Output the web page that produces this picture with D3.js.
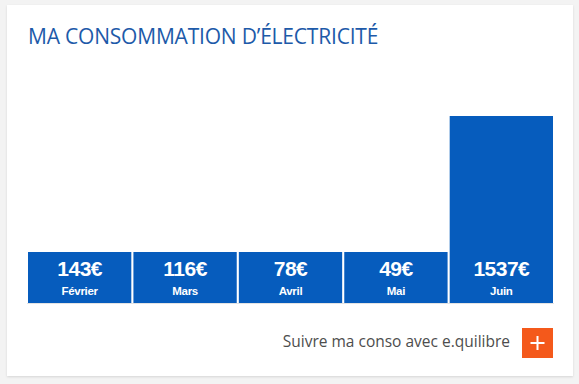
<!DOCTYPE html>
<html>
<head>
<meta charset="utf-8">
<script src="https://cdn.jsdelivr.net/npm/d3@7"></script>
<style>
  html, body { margin: 0; padding: 0; background: #f3f3f3; }
  svg { display: block; }
</style>
</head>
<body>
<svg id="chart" width="579" height="384"></svg>
<script>
// ── Data ─────────────────────────────────────────────
const title   = 'MA CONSOMMATION D\u2019ÉLECTRICITÉ';
const months  = ['Février', 'Mars', 'Avril', 'Mai', 'Juin'];
const amounts = [143, 116, 78, 49, 1537];
const footer  = 'Suivre ma conso avec e.quilibre';

(function () {
  const svg = d3.select('#chart');
  const W = 579, H = 384;
  const BLUE = '#065cbd';
  const BASE = 303, TOP = 116, MIN_H = 51;

  // ── Card + shadow ─────────────────────────────────
  const defs = svg.append('defs');
  const f = defs.append('filter').attr('id', 'shadow')
    .attr('x', '-5%').attr('y', '-5%').attr('width', '110%').attr('height', '110%');
  f.append('feDropShadow').attr('dx', 0).attr('dy', 1).attr('stdDeviation', 1.2)
    .attr('flood-color', '#000').attr('flood-opacity', 0.12);

  svg.append('rect').attr('width', W).attr('height', H).attr('fill', '#f3f3f3');
  svg.append('rect')
    .attr('x', 7).attr('y', 5).attr('width', 566).attr('height', 371)
    .attr('fill', '#fff').attr('filter', 'url(#shadow)');

  // ── Title ─────────────────────────────────────────
  svg.append('text')
    .attr('x', 28).attr('y', 44)
    .attr('font-family', '"Open Sans", sans-serif')
    .attr('font-size', 21)
    .attr('letter-spacing', -0.2)
    .attr('fill', '#1d5aa9')
    .text(title);

  // ── Scales ────────────────────────────────────────
  const x = d3.scaleBand().domain(months).range([28, 553]).paddingInner(0.02);
  const y = d3.scaleLinear().domain([0, d3.max(amounts)]).range([BASE, TOP]);
  const barTop = v => Math.min(y(v), BASE - MIN_H);

  const data = months.map((m, i) => ({ month: m, value: amounts[i] }));

  // baseline
  svg.append('line')
    .attr('x1', 27).attr('x2', 554).attr('y1', BASE + 0.5).attr('y2', BASE + 0.5)
    .attr('stroke', '#e3e3e3').attr('stroke-width', 1);

  const bars = svg.append('g').selectAll('g').data(data).join('g');

  bars.append('rect')
    .attr('x', d => x(d.month))
    .attr('y', d => barTop(d.value))
    .attr('width', x.bandwidth())
    .attr('height', d => BASE - barTop(d.value))
    .attr('fill', BLUE);

  bars.append('text')
    .attr('x', d => x(d.month) + x.bandwidth() / 2)
    .attr('y', BASE - 27)
    .attr('text-anchor', 'middle')
    .attr('font-family', '"Liberation Sans", Arial, sans-serif')
    .attr('font-weight', 'bold')
    .attr('font-size', 21)
    .attr('letter-spacing', -0.5)
    .attr('fill', '#fff')
    .text(d => d.value + '€');

  bars.append('text')
    .attr('x', d => x(d.month) + x.bandwidth() / 2)
    .attr('y', BASE - 8)
    .attr('text-anchor', 'middle')
    .attr('font-family', '"Liberation Sans", Arial, sans-serif')
    .attr('font-weight', 'bold')
    .attr('font-size', 11.5)
    .attr('letter-spacing', -0.3)
    .attr('fill', '#fff')
    .text(d => d.month);

  // ── Footer link ───────────────────────────────────
  svg.append('text')
    .attr('x', 510).attr('y', 347)
    .attr('text-anchor', 'end')
    .attr('font-family', '"Open Sans", sans-serif')
    .attr('font-size', 15.5)
    .attr('fill', '#4d4d4d')
    .text(footer);

  const btn = svg.append('g').attr('transform', 'translate(522,328)');
  btn.append('rect').attr('width', 31).attr('height', 30).attr('fill', '#f4591b');
  btn.append('path')
    .attr('d', 'M15.5 8V22M8.5 15H22.5')
    .attr('stroke', '#fff').attr('stroke-width', 2);
})();
</script>
</body>
</html>
